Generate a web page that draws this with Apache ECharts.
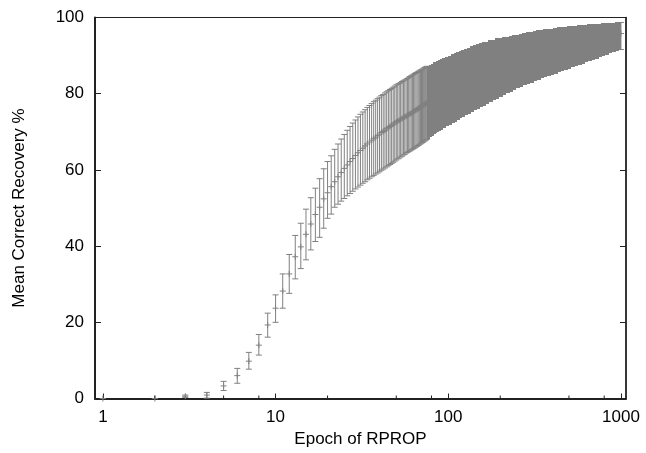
<!DOCTYPE html>
<html><head><meta charset="utf-8">
<script src="https://cdn.jsdelivr.net/npm/echarts@6/dist/echarts.min.js"></script>
<style>html,body{margin:0;padding:0;background:#fff}#c{width:646px;height:453px}</style>
</head><body><div id="c"></div>
<script>
// Epochs of RPROP (1..75 individually, then sampled where bars merge into a band)
const epochs = [
  1,2,3,4,5,6,7,8,9,10,11,12,13,14,15,16,17,18,19,20,
  21,22,23,24,25,26,27,28,29,30,31,32,33,34,35,36,37,38,39,40,
  41,42,43,44,45,46,47,48,49,50,51,52,53,54,55,56,57,58,59,60,
  61,62,63,64,65,66,67,68,69,70,71,72,73,74,75,
  76,78,80,82,84,86,88,90,93,96,100,104,108,112,116,120,125,130,135,140,
  146,152,158,165,172,180,188,196,205,215,225,235,246,258,270,283,296,310,325,340,
  356,373,390,408,427,447,468,490,513,537,562,588,615,644,674,705,738,772,808,846,
  885,926,969,1000
];
const meanVals = [
  0,0,0.6,0.9,3.3,6.0,9.8,14.0,19.3,23.7,28.2,32.7,37.2,39.8,43.1,45.8,48.3,50.2,52.4,54.0,
  55.6,56.9,58.2,59.3,60.4,61.3,62.2,63.0,63.8,64.5,65.1,65.7,66.3,66.8,67.3,67.8,68.2,68.6,69.0,69.4,
  69.8,70.1,70.4,70.8,71.1,71.4,71.7,72.0,72.3,72.6,72.8,73.0,73.3,73.5,73.7,73.9,74.1,74.3,74.5,74.7,
  74.9,75.1,75.3,75.5,75.7,75.9,76.1,76.3,76.5,76.7,76.9,77.0,77.2,77.4,77.6,
  77.7,78.0,78.3,78.6,78.9,79.1,79.4,79.6,79.9,80.3,80.7,81.1,81.4,81.8,82.1,82.4,82.8,83.2,83.5,83.8,
  84.2,84.5,84.8,85.2,85.5,85.9,86.2,86.5,86.9,87.2,87.5,87.8,88.1,88.4,88.7,89.0,89.3,89.6,89.9,90.1,
  90.4,90.7,90.9,91.2,91.4,91.7,91.9,92.2,92.4,92.7,92.9,93.2,93.4,93.7,93.9,94.2,94.4,94.7,94.9,95.1,
  95.4,95.6,95.8,95.8
];
const lowVals = [
  0,0,0.3,0.1,2.1,4.0,7.7,11.4,16.1,20.0,23.7,27.6,31.4,34.1,36.4,39.0,41.2,42.3,44.7,47.3,
  48.4,50.2,51.0,51.8,52.5,53.2,53.8,54.4,55.0,55.5,56.0,56.5,56.9,57.4,57.8,58.2,58.5,58.9,59.2,59.5,
  59.9,60.2,60.5,60.8,61.1,61.4,61.7,62.0,62.3,62.6,62.9,63.1,63.4,63.6,63.9,64.1,64.4,64.6,64.8,65.0,
  65.2,65.4,65.6,65.8,66.0,66.2,66.4,66.6,66.8,67.0,67.2,67.4,67.6,67.8,68.0,
  68.2,68.6,69.0,69.4,69.7,70.0,70.3,70.6,71.0,71.4,71.9,72.3,72.7,73.1,73.5,73.9,74.4,74.8,75.2,75.6,
  76.1,76.5,76.9,77.4,77.8,78.3,78.7,79.2,79.6,80.1,80.5,80.9,81.4,81.8,82.2,82.6,82.9,83.3,83.6,84.0,
  84.3,84.6,84.9,85.3,85.6,85.9,86.2,86.6,86.9,87.2,87.6,87.9,88.2,88.6,88.9,89.2,89.6,89.9,90.2,90.6,
  90.9,91.2,91.5,91.6
];
const highVals = [
  0,0,0.9,1.6,4.5,7.9,12.1,16.8,22.4,27.2,32.7,37.8,42.8,46.0,49.7,52.7,55.2,57.7,60.3,62.2,
  63.7,65.4,66.8,68.1,69.3,70.4,71.4,72.3,73.1,73.9,74.6,75.2,75.8,76.4,76.9,77.4,77.9,78.3,78.7,79.1,
  79.5,79.8,80.2,80.5,80.8,81.1,81.4,81.7,82.0,82.3,82.5,82.7,82.9,83.2,83.4,83.6,83.8,84.0,84.3,84.5,
  84.7,84.9,85.1,85.3,85.5,85.6,85.8,86.0,86.2,86.3,86.5,86.7,86.9,87.0,87.2,
  87.3,87.6,87.9,88.2,88.4,88.7,88.9,89.1,89.4,89.7,90.0,90.3,90.6,90.9,91.2,91.5,91.8,92.1,92.4,92.7,
  93.0,93.2,93.5,93.7,94.0,94.2,94.5,94.7,94.8,95.0,95.2,95.3,95.5,95.7,95.9,96.1,96.3,96.5,96.6,96.8,
  96.9,97.0,97.1,97.3,97.4,97.5,97.6,97.7,97.8,97.9,98.0,98.0,98.1,98.2,98.3,98.3,98.4,98.5,98.5,98.6,
  98.6,98.7,98.7,98.7
];
const xTickLabels = [1, 10, 100, 1000];
const yTickLabels = [0, 20, 40, 60, 80, 100];
const minorXTicks = [2, 5, 8, 20, 50, 80, 200, 500, 800];
const SPARSE_LIMIT = 75;

const FONT = "'Liberation Sans', Arial, Helvetica, sans-serif";
const BAR = '#808080';
const AXIS = '#222222';

function renderBar(params, api) {
  const i = params.dataIndex;
  const e = api.value(0);
  const lo = api.coord([e, api.value(1)]);
  const mid = api.coord([e, api.value(2)]);
  const hi = api.coord([e, api.value(3)]);
  const x = lo[0];
  const last = i === epochs.length - 1;
  if (e > SPARSE_LIMIT && !last) {
    const xn = api.coord([epochs[i + 1], api.value(1)])[0];
    const x0 = Math.floor(x);
    const x1 = Math.ceil(xn);
    return { type: 'rect', shape: { x: x0, y: Math.round(hi[1]), width: Math.max(1, x1 - x0), height: Math.round(lo[1]) - Math.round(hi[1]) },
      style: { fill: BAR } };
  }
  const c = 3, p = 3;
  const st = { stroke: BAR, lineWidth: 1, fill: null };
  return { type: 'group', children: [
    { type: 'line', shape: { x1: x, y1: hi[1], x2: x, y2: lo[1] }, style: st },
    { type: 'line', shape: { x1: x - c, y1: hi[1], x2: x + c, y2: hi[1] }, style: st },
    { type: 'line', shape: { x1: x - c, y1: lo[1], x2: x + c, y2: lo[1] }, style: st },
    { type: 'line', shape: { x1: x - p, y1: mid[1], x2: x + p, y2: mid[1] }, style: st },
    { type: 'line', shape: { x1: x, y1: mid[1] - p, x2: x, y2: mid[1] + p }, style: st }
  ]};
}

function renderMinorTick(params, api) {
  const pt = api.coord([api.value(0), 0]);
  return { type: 'line', shape: { x1: pt[0], y1: pt[1], x2: pt[0], y2: pt[1] - 3 },
    style: { stroke: AXIS, lineWidth: 1 } };
}

const chart = echarts.init(document.getElementById('c'), null, { renderer: 'canvas' });
chart.setOption({
  backgroundColor: '#ffffff',
  animation: false,
  textStyle: { fontFamily: FONT },
  grid: { left: 95, right: 20, top: 17.5, bottom: 54.5, show: true, borderColor: AXIS, borderWidth: 1.2, backgroundColor: 'transparent' },
  xAxis: {
    type: 'log', logBase: 10, min: 0.9, max: 1070,
    name: 'Epoch of RPROP', nameLocation: 'middle', nameGap: 26,
    nameTextStyle: { fontSize: 17, color: '#000', fontFamily: FONT },
    axisLine: { show: true, onZero: false, lineStyle: { color: AXIS, width: 2 } },
    axisTick: { show: true, inside: true, length: 5, lineStyle: { color: AXIS, width: 1 } },
    axisLabel: { fontSize: 17, color: '#000', margin: 10, fontFamily: FONT,
      showMinLabel: false, showMaxLabel: false,
      formatter: v => { const r = Math.round(v); return xTickLabels.indexOf(r) >= 0 ? String(r) : ''; } },
    splitLine: { show: false },
    minorTick: { show: false }
  },
  yAxis: [{
    type: 'value', min: 0, max: 100, interval: 20, position: 'left',
    name: 'Mean Correct Recovery %', nameLocation: 'middle', nameGap: 67,
    nameTextStyle: { fontSize: 17, color: '#000', fontFamily: FONT },
    axisLine: { show: true, lineStyle: { color: AXIS, width: 2 } },
    axisTick: { show: true, inside: true, length: 6, lineStyle: { color: AXIS, width: 1 } },
    axisLabel: { fontSize: 17, color: '#000', margin: 11, fontFamily: FONT,
      formatter: v => yTickLabels.indexOf(v) >= 0 ? String(v) : '' },
    splitLine: { show: false }
  }, {
    type: 'value', min: 0, max: 100, interval: 20, position: 'right',
    axisLine: { show: true, lineStyle: { color: AXIS, width: 1.5 } },
    axisTick: { show: true, inside: true, length: 6, lineStyle: { color: AXIS, width: 1 } },
    axisLabel: { show: false },
    splitLine: { show: false }
  }],
  series: [{
    type: 'custom', name: 'recovery', renderItem: renderBar, clip: false,
    xAxisIndex: 0, yAxisIndex: 0,
    encode: { x: 0, y: [1, 2, 3] },
    data: epochs.map((e, i) => [e, lowVals[i], meanVals[i], highVals[i]]),
    z: 2
  }, {
    type: 'custom', name: 'minorTicks', renderItem: renderMinorTick, clip: false,
    xAxisIndex: 0, yAxisIndex: 0,
    encode: { x: 0 },
    data: minorXTicks.map(v => [v]),
    z: 3
  }]
});
</script>
</body></html>
